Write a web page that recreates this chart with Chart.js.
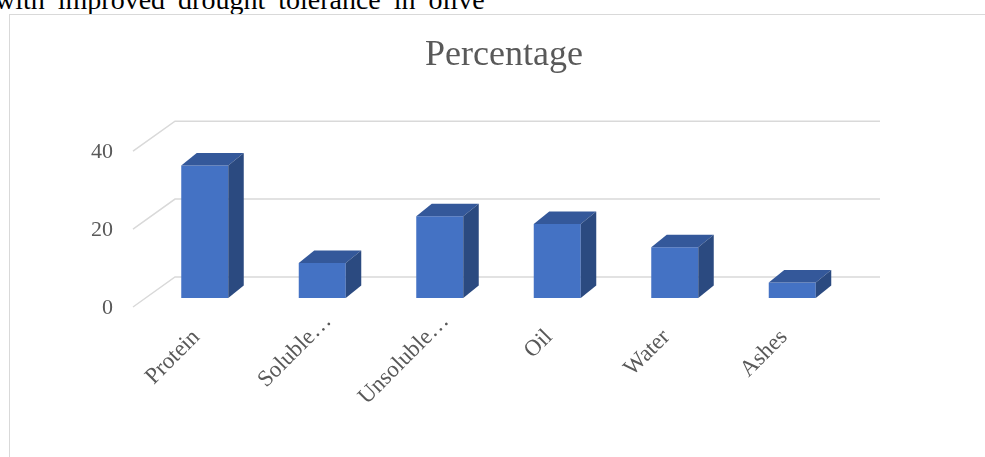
<!DOCTYPE html>
<html>
<head>
<meta charset="utf-8">
<script src="https://cdn.jsdelivr.net/npm/chart.js@4/dist/chart.umd.min.js"></script>
<style>
    html, body { margin: 0; padding: 0; background: #fff; overflow: hidden; width: 985px; height: 457px; }
    #caption {
        position: absolute; left: -5px; top: -14px; white-space: nowrap;
        font-family: "Liberation Serif", serif; font-size: 28px; line-height: 28px;
        word-spacing: 6px; color: #000;
    }
    #frame {
        position: absolute; left: 9px; top: 14px; width: 990px; height: 460px;
        border: 1px solid #d9d9d9; background: #fff;
    }
    #chart { position: absolute; left: 10px; top: 15px; }
</style>
</head>
<body>
<div id="caption">with improved drought tolerance in olive</div>
<div id="frame"></div>
<canvas id="chart" width="988" height="442"></canvas>
<script>
const categories = ['Protein', 'Soluble…', 'Unsoluble…', 'Oil', 'Water', 'Ashes'];
const percentage = [34, 9, 21, 19, 13, 4];
const yTicks = [0, 20, 40];

const serif = '"Liberation Serif", "Times New Roman", serif';
const gray = '#595959';
const gridColor = '#d9d9d9';

// offsets of the back wall and the front edge from the bar plane
const back = { dx: 29, dy: -21 };
const front = { dx: -13, dy: 9 };
// depth of each column
const depth = { dx: 15.5, dy: -12.5 };

const wallPlugin = {
    id: 'wall3d',
    beforeDatasetsDraw(chart) {
        const ctx = chart.ctx;
        const y = chart.scales.y;
        const area = chart.chartArea;
        ctx.save();
        ctx.strokeStyle = gridColor;
        ctx.lineWidth = 1.5;
        yTicks.forEach(function (v) {
            const py = y.getPixelForValue(v);
            ctx.beginPath();
            ctx.moveTo(area.left + front.dx, py + front.dy);
            ctx.lineTo(area.left + back.dx, py + back.dy);
            ctx.lineTo(area.right + back.dx, py + back.dy);
            ctx.stroke();
        });
        ctx.restore();
    },
    afterDatasetsDraw(chart) {
        const ctx = chart.ctx;
        const meta = chart.getDatasetMeta(0);
        ctx.save();
        meta.data.forEach(function (bar) {
            const half = bar.width / 2;
            const l = bar.x - half;
            const r = bar.x + half;
            // top face
            ctx.fillStyle = '#34589a';
            ctx.beginPath();
            ctx.moveTo(l, bar.y);
            ctx.lineTo(l + depth.dx, bar.y + depth.dy);
            ctx.lineTo(r + depth.dx, bar.y + depth.dy);
            ctx.lineTo(r, bar.y);
            ctx.closePath();
            ctx.fill();
            // side face
            ctx.fillStyle = '#2b4a80';
            ctx.beginPath();
            ctx.moveTo(r, bar.y);
            ctx.lineTo(r + depth.dx, bar.y + depth.dy);
            ctx.lineTo(r + depth.dx, bar.base + depth.dy);
            ctx.lineTo(r, bar.base);
            ctx.closePath();
            ctx.fill();
        });
        ctx.restore();
    },
    // slanted category labels; the cut-off ones sit a little higher
    afterDraw(chart) {
        const ctx = chart.ctx;
        const x = chart.scales.x;
        const top = chart.chartArea.bottom;
        ctx.save();
        ctx.font = '23px ' + serif;
        ctx.fillStyle = gray;
        ctx.textAlign = 'right';
        ctx.textBaseline = 'alphabetic';
        categories.forEach(function (label, i) {
            const cut = label.endsWith('…');
            const px = x.getPixelForValue(i) + (cut ? 10 : -4);
            const py = top + (cut ? 24 : 40);
            ctx.save();
            ctx.translate(px, py);
            ctx.rotate(-Math.PI / 4);
            ctx.fillText(label, 0, 0);
            ctx.restore();
        });
        ctx.restore();
    }
};

const ctx = document.getElementById('chart').getContext('2d');
new Chart(ctx, {
    type: 'bar',
    data: {
        labels: categories,
        datasets: [{
            label: 'Percentage',
            data: percentage,
            backgroundColor: '#4472c4',
            borderWidth: 0,
            barPercentage: 0.4,
            categoryPercentage: 1
        }]
    },
    plugins: [wallPlugin],
    options: {
        responsive: false,
        animation: false,
        layout: { padding: 0 },
        plugins: {
            legend: { display: false },
            tooltip: { enabled: false },
            title: {
                display: true,
                text: 'Percentage',
                color: gray,
                font: { family: serif, size: 36, weight: 'normal', lineHeight: 1.2 },
                padding: { top: 19, bottom: 65 }
            }
        },
        scales: {
            x: {
                grid: { display: false, drawTicks: false, tickLength: 0 },
                border: { display: false },
                ticks: { display: false },
                afterFit(scale) { scale.height = 159; }
            },
            y: {
                min: 0,
                max: 40,
                grid: { display: false, drawTicks: false, tickLength: 0 },
                border: { display: false },
                ticks: {
                    stepSize: 20,
                    color: gray,
                    font: { family: serif, size: 22 },
                    padding: 33,
                    labelOffset: 10
                },
                afterFit(scale) { scale.width = 136; }
            },
            // empty strip on the right that leaves room for the back wall
            side: {
                type: 'linear',
                position: 'right',
                grid: { display: false, drawTicks: false },
                border: { display: false },
                ticks: { display: false },
                afterFit(scale) { scale.width = 147; }
            }
        }
    }
});
</script>
</body>
</html>
